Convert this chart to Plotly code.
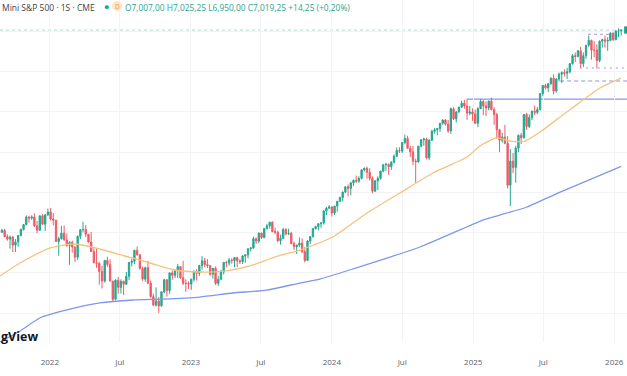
import pandas as pd
import plotly.graph_objects as go

# ---------------- data (weekly E-mini S&P 500, CME) ----------------
week_start = "2021-08-30"

opens = [
    # 2021
    4505,4530,4450,4420,4445,4345,4385,4465,4540,4600,4695,4680,4695,4585,4530,4710,4605,4720,
    # 2022
    4758,4670,4655,4390,4425,4493,4410,4340,4380,4322,4195,4455,4535,4540,4480,4385,4265,4125,
    4118,4018,3900,4155,4105,3898,3672,3910,3820,3895,3860,3958,4128,4145,4280,4225,4055,3922,
    4065,3872,3705,3600,3650,3590,3765,3915,3780,4000,3970,4030,4078,3940,3870,3870,
    # 2023
    3861,3920,4020,3995,4090,4150,4105,4090,3983,4058,3870,3920,4010,4130,4125,4160,4155,4190,
    4150,4140,4210,4225,4300,4310,4425,4395,4495,4440,4550,4585,4630,4515,4505,4400,4430,4540,
    4485,4490,4365,4325,4345,4370,4265,4155,4395,4450,4550,4575,4610,4620,4770,4805,
    # 2024
    4820,4745,4830,4890,4935,5005,5070,5050,5120,5150,5140,5175,5280,5300,5250,5175,5015,5145,
    5175,5265,5345,5350,5320,5375,5450,5520,5515,5620,5670,5550,5505,5390,5380,5575,5655,5665,
    5430,5650,5760,5780,5795,5860,5900,5850,5765,6040,5915,6000,6060,6110,6075,5985,6000,
    # 2025
    5975,5860,6040,6130,6075,6050,6135,6030,5970,5780,5650,5690,5610,5090,5390,5310,5550,5710,
    5680,5970,5820,5930,6010,5995,6030,6230,6330,6300,6350,6420,6260,6410,6470,6490,6480,6500,
    6600,6700,6690,6760,6600,6700,6830,6890,6770,6770,6640,6880,6900,6880,6890,6980,
    # 2026
    6900,7005,7007,
]
highs = [
    4545,4548,4480,4465,4460,4420,4465,4550,4600,4715,4710,4715,4740,4645,4710,4730,4735,4800,
    4808,4745,4660,4450,4585,4590,4490,4395,4400,4328,4465,4545,4635,4595,4485,4510,4305,4303,
    4140,4087,4160,4200,4170,3900,3920,3950,3920,3905,4012,4135,4175,4290,4327,4230,4080,4078,
    4150,3905,3740,3820,3700,3770,3925,3920,4005,4030,4040,4110,4080,4150,3920,3895,
    3930,4030,4045,4100,4208,4185,4170,4095,4060,4080,3960,4040,4130,4150,4185,4180,4195,4200,
    4170,4225,4230,4305,4320,4450,4440,4500,4500,4560,4610,4635,4640,4565,4525,4475,4560,4555,
    4550,4510,4390,4350,4440,4430,4320,4410,4460,4560,4585,4620,4630,4780,4820,4843,
    4825,4830,4890,4950,5010,5075,5100,5125,5160,5210,5200,5290,5310,5320,5300,5200,5150,5200,
    5270,5350,5370,5360,5390,5470,5560,5560,5620,5720,5705,5580,5580,5420,5580,5660,5680,5680,
    5660,5780,5800,5800,5860,5910,5910,5900,6055,6060,6010,6065,6140,6150,6162,6075,6045,
    6030,6060,6160,6150,6130,6140,6178,6060,5990,5790,5740,5840,5700,5540,5490,5580,5720,5740,
    5970,5990,5970,6020,6080,6060,6230,6330,6350,6360,6430,6470,6420,6490,6505,6530,6550,6610,
    6720,6740,6770,6810,6740,6830,6950,6900,6880,6840,6890,6910,6950,6930,6990,6990,
    7020,7040,7025.25,
]
lows = [
    4500,4445,4400,4300,4260,4260,4325,4455,4525,4590,4625,4660,4570,4495,4520,4600,4520,4710,
    4650,4590,4385,4212,4415,4400,4325,4101,4252,4137,4160,4420,4505,4445,4375,4260,4122,4062,
    3855,3807,3880,4075,3895,3640,3660,3740,3745,3725,3850,3910,4080,4110,4215,4040,3900,3890,
    3860,3690,3588,3580,3502,3580,3745,3705,3740,3915,3935,3935,3925,3850,3765,3800,
    3790,3890,3905,3960,4040,4070,4060,3963,3928,3850,3840,3910,3980,4070,4090,4115,4070,4070,
    4110,4110,4125,4180,4265,4300,4360,4370,4420,4430,4540,4550,4505,4480,4380,4350,4420,4465,
    4470,4355,4285,4235,4320,4245,4130,4150,4360,4440,4540,4530,4560,4600,4720,4790,
    4700,4720,4760,4880,4890,4990,4950,4965,5080,5120,5120,5160,5260,5170,5150,4990,5010,5030,
    5160,5250,5270,5220,5280,5360,5440,5490,5490,5600,5540,5440,5340,5120,5370,5560,5580,5410,
    5400,5640,5730,5710,5750,5840,5830,5740,5730,5900,5870,5990,6050,6040,5900,5960,5890,
    5850,5810,6040,5960,5950,6020,6020,5840,5670,5500,5620,5600,5050,4832,5240,5120,5500,5600,
    5670,5780,5800,5900,5960,5970,6020,6200,6280,6250,6340,6220,6240,6380,6360,6440,6410,6480,
    6590,6620,6680,6550,6560,6660,6810,6650,6680,6540,6620,6800,6800,6760,6880,6880,
    6890,6930,6950,
]
closes = [
    4530,4450,4420,4445,4345,4385,4465,4540,4600,4695,4680,4695,4585,4530,4710,4605,4720,4758,
    4670,4655,4390,4425,4493,4410,4340,4380,4322,4195,4455,4535,4540,4480,4385,4265,4125,4118,
    4018,3900,4155,4105,3898,3672,3910,3820,3895,3860,3958,4128,4145,4280,4225,4055,3922,4065,
    3872,3705,3600,3650,3590,3765,3915,3780,4000,3970,4030,4078,3940,3870,3870,3861,
    3920,4020,3995,4090,4150,4105,4090,3983,4058,3870,3920,4010,4130,4125,4160,4155,4190,4150,
    4140,4210,4225,4300,4310,4425,4395,4495,4440,4550,4585,4630,4515,4505,4400,4430,4540,4485,
    4490,4365,4325,4345,4370,4265,4155,4395,4450,4550,4575,4610,4620,4770,4805,4820,
    4745,4830,4890,4935,5005,5070,5050,5120,5150,5140,5175,5280,5300,5250,5175,5015,5145,5175,
    5265,5345,5350,5320,5375,5450,5520,5515,5620,5670,5550,5505,5390,5380,5575,5655,5665,5430,
    5650,5760,5780,5795,5860,5900,5850,5765,6040,5915,6000,6060,6110,6075,5985,6000,5975,
    5860,6040,6130,6075,6050,6135,6030,5970,5780,5650,5690,5610,5090,5390,5310,5550,5710,5680,
    5970,5820,5930,6010,5995,6030,6230,6330,6300,6350,6420,6260,6410,6470,6490,6480,6500,6600,
    6700,6690,6760,6600,6700,6830,6890,6770,6770,6640,6880,6900,6880,6890,6980,6900,
    7005,7005,7019.25,
]

# moving averages at sample dates
ma_fast_dates = ["2021-08-25","2021-10-16","2022-01-01","2022-03-06","2022-05-10","2022-07-14",
                 "2022-09-17","2022-11-20","2023-01-24","2023-03-30","2023-06-03","2023-08-06",
                 "2023-10-10","2024-01-03","2024-04-01","2024-06-25","2024-09-19","2024-12-16",
                 "2025-01-18","2025-03-03","2025-04-06","2025-05-15","2025-06-23","2025-08-14",
                 "2025-09-14","2025-11-25","2026-01-19"]
ma_fast_vals = [3961,4123,4309,4359,4297,4210,4123,4036,4011,4023,4086,4197,4284,4446,4744,4993,
                5242,5440,5577,5677,5639,5639,5751,5938,6049,6298,6420]
ma_slow_dates = ["2021-08-25","2021-10-16","2021-12-06","2022-02-14","2022-05-10","2022-08-04",
                 "2022-10-20","2023-01-24","2023-04-20","2023-07-17","2023-10-10","2023-12-01",
                 "2024-02-16","2024-08-16","2025-01-26","2025-03-11","2025-05-20","2025-08-14",
                 "2026-01-19"]
ma_slow_vals = [3141,3278,3439,3539,3626,3663,3675,3700,3750,3787,3874,3924,4036,4322,4657,4719,
                4819,5005,5325]

# drawn horizontal levels
level_prices = [6161, 6385, 6547, 6965]
level_starts = ["2024-12-16", "2025-08-14", "2025-10-04", "2025-10-25"]
level_ends   = ["2026-02-10", "2026-02-10", "2026-02-10", "2025-12-28"]

tick_vals = ["2022-01-01","2022-07-01","2023-01-01","2023-07-01","2024-01-01","2024-07-01",
             "2025-01-01","2025-07-01","2026-01-01"]
tick_text = ["2022","Jul","2023","Jul","2024","Jul","2025","Jul","2026"]

title_text = "Mini S&P 500 · 1S · CME"
ohlc_text = "O7,007,00 H7,025,25 L6,950,00 C7,019,25 +14,25 (+0,20%)"
watermark_text = "gView"

# ---------------- figure ----------------
dates = pd.date_range(week_start, periods=len(closes), freq="W-MON")

UP = "#26a88e"
DN = "#ef5b67"

fig = go.Figure()
fig.add_trace(go.Scatter(x=ma_slow_dates, y=ma_slow_vals, mode="lines",
                         line=dict(color="#7f97ea", width=1.3, shape="spline", smoothing=0.6),
                         hoverinfo="skip", showlegend=False))
fig.add_trace(go.Scatter(x=ma_fast_dates, y=ma_fast_vals, mode="lines",
                         line=dict(color="#f5c27e", width=1.3, shape="spline", smoothing=0.6),
                         hoverinfo="skip", showlegend=False))
fig.add_trace(go.Candlestick(
    x=dates, open=opens, high=highs, low=lows, close=closes,
    increasing=dict(line=dict(color=UP, width=1), fillcolor=UP),
    decreasing=dict(line=dict(color=DN, width=1), fillcolor=DN),
    whiskerwidth=0, showlegend=False, hoverinfo="skip"))

level_styles = [
    dict(color="#8199ee", width=1.3, dash="solid"),
    dict(color="#8a96ea", width=1.2, dash="4px,3px"),
    dict(color="#9a9ce0", width=1.2, dash="2px,4px"),
    dict(color="#c9a6d8", width=1.2, dash="3px,3px"),
]
shapes = []
for p, s, e, st in zip(level_prices, level_starts, level_ends, level_styles):
    shapes.append(dict(type="line", xref="x", yref="y", x0=s, x1=e, y0=p, y1=p, line=st, layer="below"))
# last price line
shapes.append(dict(type="line", xref="paper", yref="y", x0=0, x1=1, y0=closes[-1], y1=closes[-1],
                   line=dict(color="#a9dcd3", width=1, dash="dot"), layer="below"))
# price label stub at right edge
shapes.append(dict(type="rect", xref="paper", yref="y", x0=0.9955, x1=1.01,
                   y0=closes[-1] - 45, y1=closes[-1] + 45,
                   fillcolor="#1e9e86", line=dict(width=0)))
# header badge circle
shapes.append(dict(type="circle", xref="paper", yref="paper",
                   x0=112 / 627, x1=122 / 627, y0=1 - 11 / 342, y1=1 - 1 / 342,
                   fillcolor="#fde4c4", line=dict(width=0)))

annotations = [
    dict(xref="paper", yref="paper", x=0.0, y=1 - 7 / 342, xanchor="left", yanchor="middle",
         text=title_text, showarrow=False, font=dict(family="Open Sans", size=8.5, color="#3b3f4a")),
    dict(xref="paper", yref="paper", x=106 / 627, y=1 - 6 / 342, xanchor="center", yanchor="middle",
         text="●", showarrow=False, font=dict(size=9, color="#21a38a")),
    dict(xref="paper", yref="paper", x=117 / 627, y=1 - 6 / 342, xanchor="center", yanchor="middle",
         text="D", showarrow=False, font=dict(family="Open Sans", size=6.5, color="#f29d38")),
    dict(xref="paper", yref="paper", x=123 / 627, y=1 - 7 / 342, xanchor="left", yanchor="middle",
         text=ohlc_text, showarrow=False, font=dict(family="Open Sans", size=8.4, color="#2aa58f")),
    dict(xref="paper", yref="paper", x=-1 / 627, y=1 - 336 / 342, xanchor="left", yanchor="middle",
         text="<b>" + watermark_text + "</b>", showarrow=False,
         font=dict(family="Open Sans", size=12.5, color="#131722")),
]

fig.update_layout(
    width=627, height=376,
    margin=dict(l=0, r=0, t=0, b=34),
    paper_bgcolor="white", plot_bgcolor="white",
    showlegend=False,
    shapes=shapes, annotations=annotations,
    xaxis=dict(type="date", range=["2021-08-25", "2026-02-03"],
               tickvals=tick_vals, ticktext=tick_text,
               showgrid=True, gridcolor="#f1f3f7", gridwidth=1,
               zeroline=False, showline=False, ticks="",
               ticklabelstandoff=14, ticklabeloverflow="allow",
               tickfont=dict(family="Open Sans", size=8, color="#5d606b"),
               rangeslider=dict(visible=False), fixedrange=True),
    yaxis=dict(range=[3141, 7392], showticklabels=False, showgrid=True,
               gridcolor="#f1f3f7", dtick=500, tick0=0, zeroline=False, showline=False,
               fixedrange=True),
)

fig.write_html("out.html", config={"displayModeBar": False},
               post_script="document.body.style.margin='0';document.body.style.overflow='hidden';")
